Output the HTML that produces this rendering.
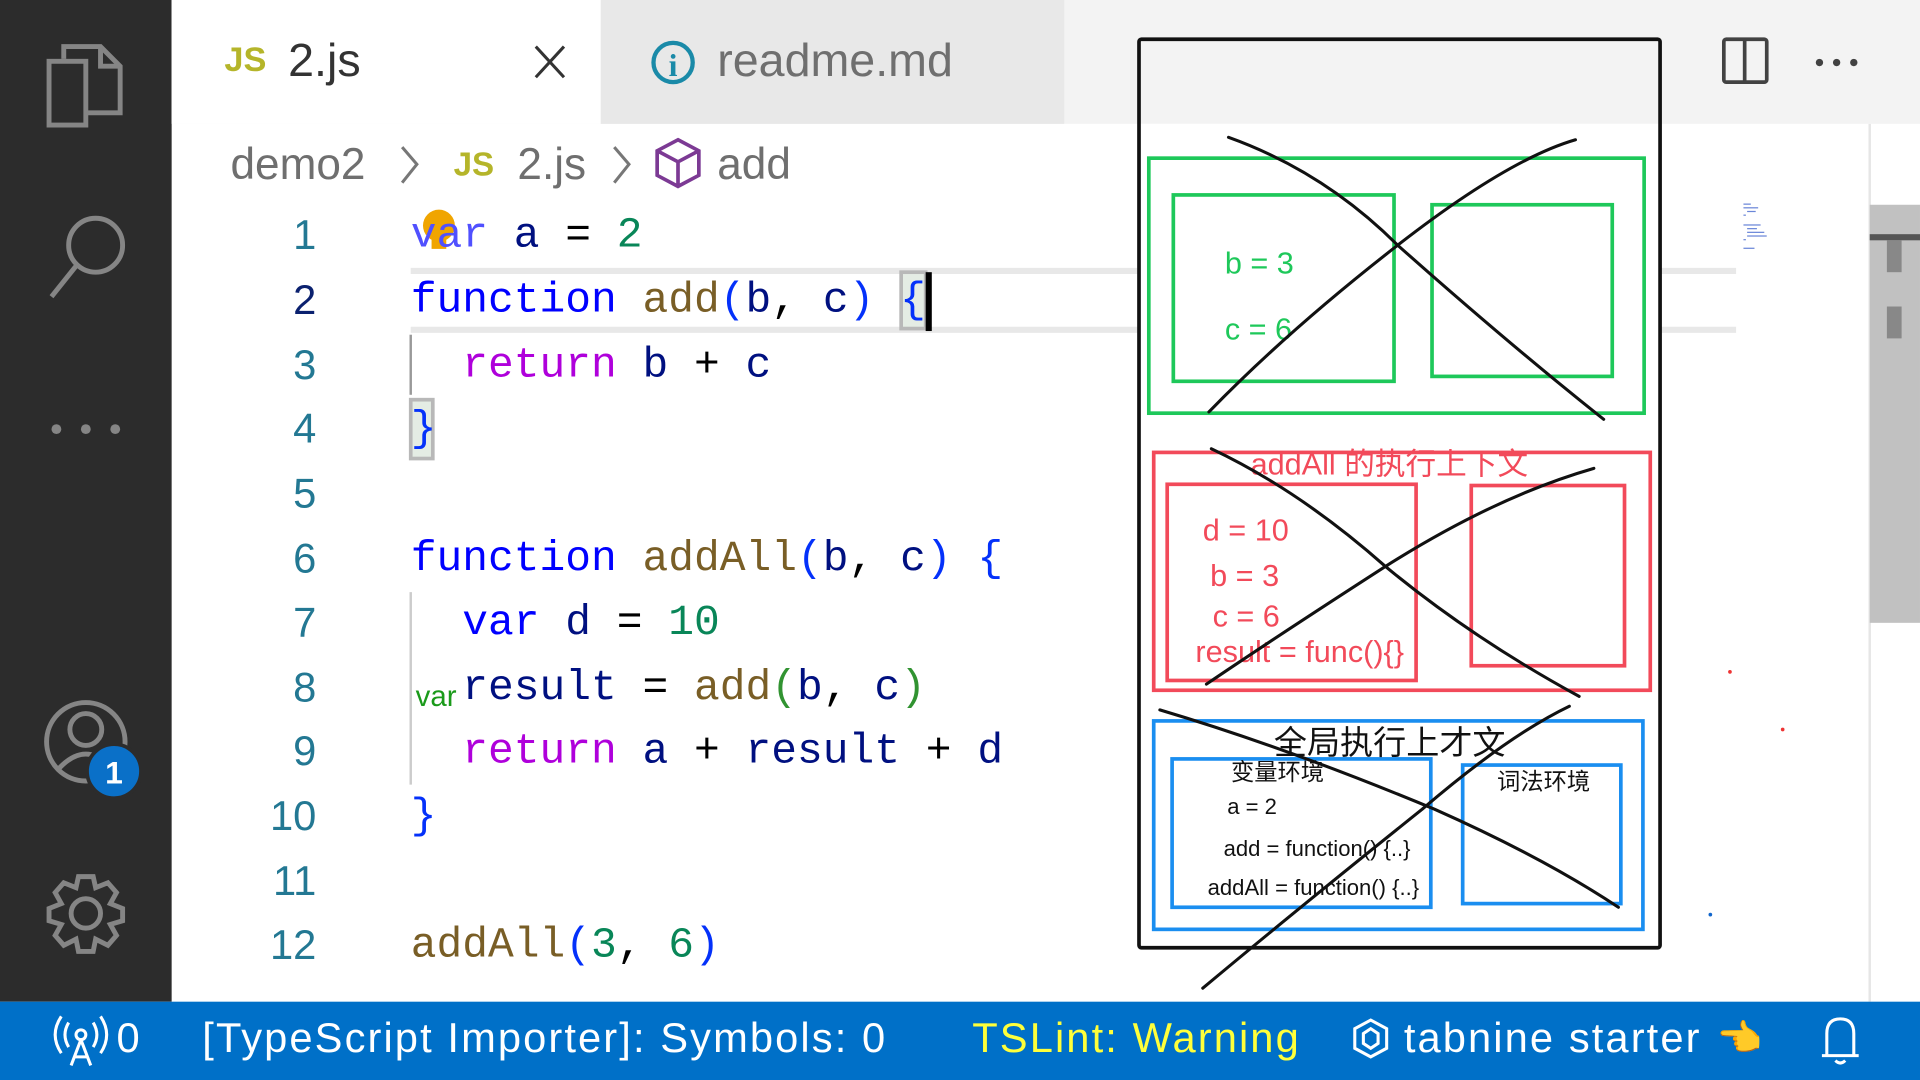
<!DOCTYPE html>
<html><head><meta charset="utf-8"><style>
*{margin:0;padding:0;box-sizing:border-box}
html,body{width:1920px;height:1080px;overflow:hidden;background:#fff}
#s{position:absolute;left:0;top:0;width:1566px;height:881px;transform:scale(1.22605);transform-origin:0 0;font-family:"Liberation Sans","Noto Sans CJK SC",sans-serif}
.a{position:absolute;white-space:pre}
.ln{position:absolute;width:80px;left:178px;text-align:right;font-family:"Liberation Sans",sans-serif;font-size:34px;color:#237893;line-height:44px}
.cd{position:absolute;left:335px;font-family:"Liberation Mono",monospace;font-size:35px;line-height:44px;color:#001080;white-space:pre}
.k{color:#0000ff}.r{color:#af00db}.f{color:#795e26}.n{color:#098658}.b{color:#0431fa}.g{color:#319331}.o{color:#000}
.st{font-size:34px;letter-spacing:1.7px}
</style></head><body><div id="s">
<div class="a" style="left:0;top:0;width:140px;height:817px;background:#2c2c2c"></div>
<div class="a" style="left:140px;top:0;width:1426px;height:101px;background:#f3f3f3"></div>
<div class="a" style="left:140px;top:0;width:350px;height:101px;background:#fff"></div>
<div class="a" style="left:490px;top:0;width:378px;height:101px;background:#e8e8e8"></div>
<div class="a" style="left:183px;top:33px;font-size:28px;font-weight:bold;color:#b5b52a">JS</div>
<div class="a" style="left:235px;top:29px;font-size:38px;color:#333">2.js</div>
<div class="a" style="left:585px;top:29px;font-size:38px;color:#6f6f6f">readme.md</div>
<svg class="a" style="left:0;top:0" width="1566" height="881">
<path d="M437 38 L460 63 M460 38 L437 63" stroke="#333" stroke-width="2.5"/>
<circle cx="549" cy="51" r="16" fill="none" stroke="#1a8aa8" stroke-width="3.5"/>
<text x="549" y="62" font-family="Liberation Serif" font-weight="bold" font-size="26" fill="#1a8aa8" text-anchor="middle">i</text>
<path d="M328 120 L340 134 L328 149" fill="none" stroke="#777" stroke-width="2.5"/>
<path d="M501 120 L513 134 L501 149" fill="none" stroke="#777" stroke-width="2.5"/>
<path d="M553 114 L570 123 L570 143 L553 152 L536 143 L536 123 Z M536 123 L553 132 L570 123 M553 132 L553 152" fill="none" stroke="#7c3a94" stroke-width="3"/>
<rect x="1406" y="32" width="35" height="35" fill="none" stroke="#424242" stroke-width="3" rx="2"/>
<line x1="1423" y1="32" x2="1423" y2="67" stroke="#424242" stroke-width="3"/>
<circle cx="1484" cy="51" r="3" fill="#424242"/><circle cx="1498" cy="51" r="3" fill="#424242"/><circle cx="1512" cy="51" r="3" fill="#424242"/>
<g fill="none" stroke="#858585" stroke-width="4">
<path d="M52 48 L52 38 L82 38 L98 54 L98 92 L70 92"/><path d="M82 38 L82 54 L98 54"/>
<rect x="40" y="50" width="30" height="52"/>
<circle cx="78" cy="200" r="22"/><line x1="62" y1="217" x2="42" y2="242"/>
<circle cx="70" cy="605" r="32"/><circle cx="70" cy="595" r="13"/><path d="M47 628 Q70 602 93 628"/>
<circle cx="70" cy="745" r="12"/>
<path d="M64 715 L76 715 L78 724 L88 720 L95 728 L90 737 L100 741 L100 751 L90 754 L95 763 L88 771 L78 766 L76 776 L64 776 L62 766 L52 771 L45 763 L50 754 L40 751 L40 741 L50 737 L45 728 L52 720 L62 724 Z"/>
</g>
<circle cx="46" cy="350" r="4" fill="#858585"/><circle cx="70" cy="350" r="4" fill="#858585"/><circle cx="94" cy="350" r="4" fill="#858585"/>
<circle cx="93" cy="629" r="22" fill="#0a70c8" stroke="#2c2c2c" stroke-width="3"/>
<text x="93" y="639" font-size="26" font-weight="bold" fill="#fff" text-anchor="middle" font-family="Liberation Sans">1</text>
<line x1="335" y1="221" x2="1416" y2="221" stroke="#e8e8e8" stroke-width="5"/>
<line x1="335" y1="269" x2="1416" y2="269" stroke="#e8e8e8" stroke-width="5"/>
<rect x="735" y="222" width="20" height="46" fill="#e4ece4" stroke="#b8b8b8" stroke-width="3"/>
<rect x="755" y="222" width="5" height="48" fill="#000"/>
<rect x="335" y="326" width="18" height="48" fill="#e4ece4" stroke="#b8b8b8" stroke-width="3"/>
<line x1="335" y1="273" x2="335" y2="322" stroke="#999" stroke-width="2"/>
<line x1="335" y1="483" x2="335" y2="640" stroke="#ccc" stroke-width="2"/>
<circle cx="358" cy="184" r="13" fill="#f0a500"/><rect x="352" y="193" width="12" height="10" fill="#f0a500"/>
<line x1="1525" y1="101" x2="1525" y2="817" stroke="#e6e6e6" stroke-width="2"/>
<rect x="1525" y="167" width="41" height="341" fill="#c1c1c1"/>
<rect x="1525" y="191" width="41" height="5" fill="#555"/>
<rect x="1539" y="196" width="12" height="26" fill="#888"/>
<rect x="1539" y="250" width="12" height="26" fill="#888"/>
<g fill="#6a86d8"><rect x="1422" y="166" width="6" height="1"/><rect x="1422" y="169" width="12" height="1"/><rect x="1425" y="172" width="7" height="1"/><rect x="1422" y="175" width="2" height="1"/><rect x="1422" y="183" width="14" height="1"/><rect x="1425" y="186" width="8" height="1"/><rect x="1425" y="189" width="14" height="1"/><rect x="1425" y="192" width="16" height="1"/><rect x="1422" y="195" width="2" height="1"/><rect x="1422" y="202" width="9" height="1"/></g>
<circle cx="1411" cy="548" r="1.5" fill="#e33"/><circle cx="1454" cy="595" r="1.5" fill="#e33"/><circle cx="1395" cy="746" r="1.5" fill="#16c"/>
</svg>
<div class="a" style="left:188px;top:113px;font-size:36px;color:#6f6f6f">demo2</div>
<div class="a" style="left:370px;top:119px;font-size:27px;font-weight:bold;color:#b5b52a">JS</div>
<div class="a" style="left:422px;top:113px;font-size:36px;color:#6f6f6f">2.js</div>
<div class="a" style="left:585px;top:113px;font-size:36px;color:#6f6f6f">add</div>

<div class="ln" style="top:170px">1</div><div class="ln" style="top:223px;color:#0b216f">2</div><div class="ln" style="top:276px">3</div><div class="ln" style="top:328px">4</div><div class="ln" style="top:381px">5</div><div class="ln" style="top:434px">6</div><div class="ln" style="top:486px">7</div><div class="ln" style="top:539px">8</div><div class="ln" style="top:591px">9</div><div class="ln" style="top:644px">10</div><div class="ln" style="top:697px">11</div><div class="ln" style="top:749px">12</div>

<div class="cd" style="top:170px"><span class="k" style="color:#5050ff">var</span> a <span class="o">=</span> <span class="n">2</span></div>
<div class="cd" style="top:223px"><span class="k">function</span> <span class="f">add</span><span class="b">(</span>b<span class="o">,</span> c<span class="b">)</span> <span class="b">{</span></div>
<div class="cd" style="top:276px">  <span class="r">return</span> b <span class="o">+</span> c</div>
<div class="cd" style="top:328px"><span class="b">}</span></div>
<div class="cd" style="top:434px"><span class="k">function</span> <span class="f">addAll</span><span class="b">(</span>b<span class="o">,</span> c<span class="b">)</span> <span class="b">{</span></div>
<div class="cd" style="top:486px">  <span class="k">var</span> d <span class="o">=</span> <span class="n">10</span></div>
<div class="cd" style="top:539px">  result <span class="o">=</span> <span class="f">add</span><span class="g">(</span>b<span class="o">,</span> c<span class="g">)</span></div>
<div class="a" style="left:339px;top:555px;font-size:24px;color:#1a9a1a">var</div>
<div class="cd" style="top:591px">  <span class="r">return</span> a <span class="o">+</span> result <span class="o">+</span> d</div>
<div class="cd" style="top:644px"><span class="b">}</span></div>
<div class="cd" style="top:749px"><span class="f">addAll</span><span class="b">(</span><span class="n">3</span><span class="o">,</span> <span class="n">6</span><span class="b">)</span></div>

<svg class="a" style="left:0;top:0" width="1566" height="881">
<rect x="930" y="101" width="423" height="671" fill="#fff"/>
<rect x="929" y="32" width="425" height="741" fill="none" stroke="#111" stroke-width="3" rx="2"/>
<g fill="none" stroke="#1ec85a" stroke-width="3">
<rect x="937" y="129" width="404" height="208"/><rect x="957" y="159" width="180" height="152"/><rect x="1168" y="167" width="147" height="140"/></g>
<g fill="none" stroke="#f24a5a" stroke-width="3">
<rect x="941" y="369" width="405" height="194"/><rect x="952" y="395" width="203" height="160"/><rect x="1200" y="396" width="125" height="147"/></g>
<g fill="none" stroke="#1a8ef0" stroke-width="3">
<rect x="941" y="588" width="399" height="170"/><rect x="956" y="619" width="211" height="121"/><rect x="1193" y="624" width="129" height="113"/></g>
<g font-family="Liberation Sans,Noto Sans CJK SC,sans-serif">
<text x="999" y="223" font-size="25" fill="#1ec85a">b = 3</text>
<text x="999" y="277" font-size="25" fill="#1ec85a">c = 6</text>
<text x="1020" y="387" font-size="25" fill="#f24a5a">addAll 的执行上下文</text>
<text x="981" y="441" font-size="25" fill="#f24a5a">d = 10</text>
<text x="987" y="478" font-size="25" fill="#f24a5a">b = 3</text>
<text x="989" y="511" font-size="25" fill="#f24a5a">c = 6</text>
<text x="975" y="540" font-size="25" fill="#f24a5a">result = func(){}</text>
<text x="1039" y="615" font-size="27" fill="#111">全局执行上才文</text>
<text x="1004" y="636" font-size="19" fill="#111">变量环境</text>
<text x="1221" y="644" font-size="19" fill="#111">词法环境</text>
<text x="1001" y="664" font-size="18" fill="#111">a = 2</text>
<text x="998" y="698" font-size="18" fill="#111">add = function() {..}</text>
<text x="985" y="730" font-size="18" fill="#111">addAll = function() {..}</text>
</g>
<g fill="none" stroke="#111" stroke-width="2.5" stroke-linecap="round">
<path d="M1002 112 Q1080 140 1140 200 Q1230 280 1308 342"/>
<path d="M986 336 Q1050 270 1140 200 Q1230 130 1285 114"/>
<path d="M988 366 Q1060 400 1130 462 Q1200 520 1288 568"/>
<path d="M984 558 Q1040 520 1130 462 Q1220 405 1300 382"/>
<path d="M946 579 Q1050 610 1170 660 Q1260 700 1320 740"/>
<path d="M981 806 Q1060 740 1160 660 Q1230 600 1280 576"/>
</g>
</svg>

<div class="a" style="left:0;top:817px;width:1566px;height:64px;background:#0070c8"></div>
<svg class="a" style="left:0;top:817px" width="1566" height="64">
<g fill="none" stroke="#fff" stroke-width="2.5"><circle cx="66" cy="27" r="4"/><path d="M56 17 Q50 27 56 37 M76 17 Q82 27 76 37 M50 12 Q40 27 50 42 M82 12 Q92 27 82 42 M66 31 L58 52 M66 31 L74 52 M61 45 L71 45"/>
<path d="M1118 15 L1131 22 L1131 38 L1118 45 L1105 38 L1105 22 Z M1112 26 L1118 22 L1124 26 L1124 34 L1118 38 L1112 34 Z"/>
<path d="M1486 44 L1516 44 M1490 44 L1490 26 Q1490 14 1501 14 Q1512 14 1512 26 L1512 44 M1497 48 Q1501 52 1505 48"/></g>
</svg>
<div class="a st" style="left:95px;top:828px;color:#fff">0</div>
<div class="a st" style="left:165px;top:828px;color:#fff">[TypeScript Importer]: Symbols: 0</div>
<div class="a st" style="left:793px;top:828px;color:#ffff3a">TSLint: Warning</div>
<div class="a st" style="left:1145px;top:828px;color:#fff">tabnine starter</div>
<div class="a" style="left:1400px;top:830px;font-size:30px;color:#f5c040">👈</div>
</div></body></html>
